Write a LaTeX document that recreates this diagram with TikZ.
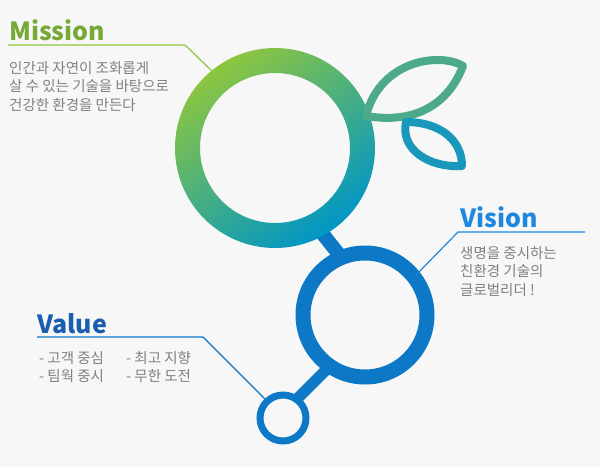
\documentclass[tikz,border=0pt]{standalone}
\usepackage{fontspec}
\setmainfont{Noto Sans CJK KR}
\begin{document}
\begin{tikzpicture}[x=1pt,y=-1pt,
  ttl/.style={anchor=base west,inner sep=0pt,font=\fontsize{25}{25}\selectfont\bfseries},
  body/.style={anchor=north west,inner sep=0pt,text=black!50,font=\fontsize{14.5}{18.5}\selectfont,align=left},
  lead/.style={line width=1.2pt}]
\definecolor{grn}{HTML}{8DC63F}
\definecolor{tealc}{HTML}{0096C6}
\definecolor{blu}{HTML}{0C78C6}
\definecolor{visc}{HTML}{1E88E0}
\definecolor{valc}{HTML}{1A5EB0}
\definecolor{leafa}{HTML}{4CA98A}
\definecolor{leafb}{HTML}{1A98BC}
\fill[black!3] (0,0) rectangle (600,467);
\useasboundingbox (0,0) rectangle (600,467);
% stems
\draw[blu,line width=14pt] (318,228) -- (345,262);
\draw[blu,line width=11pt] (296,400) -- (330,366);
% big ring
\shade[even odd rule,top color=grn,bottom color=tealc,shading angle=35] (275,148) circle[radius=100] (275,148) circle[radius=75];
% leaves
\draw[line width=8pt,line join=round,draw=leafa] (366,116) .. controls (380,60) and (440,52) .. (463,66) .. controls (450,100) and (420,125) .. cycle;
\draw[line width=8pt,line join=round,draw=leafb] (406,122) .. controls (400,150) and (430,168) .. (462,166) .. controls (462,140) and (440,122) .. cycle;
% middle ring
\draw[blu,line width=15pt] (365,315) circle[radius=62];
% small ring
\draw[blu,line width=7pt] (283,418) circle[radius=23];
% Mission
\node[ttl,text=grn!85!black] (mis) at (9,40) {Mission};
\coordinate (m1) at (8,45); \coordinate (m2) at (185,45); \coordinate (m3) at (212,71);
\draw[lead,grn] (m1) -- (m2) -- (m3);
\node[body] (mt) at (9,61) {인간과 자연이 조화롭게\\살 수 있는 기술을 바탕으로\\건강한 환경을 만든다};
% Vision
\node[ttl,text=visc] (vis) at (460,227) {Vision};
\coordinate (v1) at (585,232); \coordinate (v2) at (458,232); \coordinate (v3) at (416,275);
\draw[lead,visc] (v1) -- (v2) -- (v3);
\node[body] (vt) at (460,246) {생명을 중시하는\\친환경 기술의\\글로벌리더 !};
% Value
\node[ttl,text=valc] (val) at (37,333) {Value};
\coordinate (a1) at (37,337); \coordinate (a2) at (203,337); \coordinate (a3) at (265,399);
\draw[lead,blu] (a1) -- (a2) -- (a3);
\node[body] (va) at (39,351) {- 고객 중심\\- 팀웍 중시};
\node[body] (vb) at (126,351) {- 최고 지향\\- 무한 도전};
\end{tikzpicture}
\end{document}
